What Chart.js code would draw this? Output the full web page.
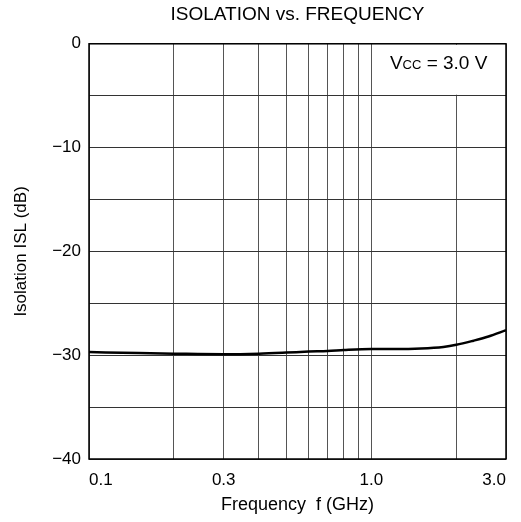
<!DOCTYPE html>
<html>
<head>
<meta charset="utf-8">
<script src="https://cdn.jsdelivr.net/npm/chart.js@4"></script>
<style>
  body { margin: 0; background: #fff; }
  #wrap { width: 521px; height: 522px; }
</style>
</head>
<body>
<div id="wrap"><canvas id="chart"></canvas></div>
<script>
// data
const freqs = [0.1, 0.15, 0.2, 0.3, 0.4, 0.5, 0.6, 0.7, 0.8, 1.0, 1.2, 1.5, 1.8, 2.0, 2.3, 2.6, 3.0];
const isolation = [-29.7, -29.8, -29.85, -29.9, -29.85, -29.75, -29.65, -29.6, -29.5, -29.4, -29.4, -29.35, -29.2, -29.0, -28.6, -28.2, -27.6];

// axis ticks
const xGrid = [0.1, 0.2, 0.3, 0.4, 0.5, 0.6, 0.7, 0.8, 0.9, 1, 2, 3];
const xLabelValues = [0.1, 0.3, 1, 3];
const xLabelText = ['0.1', '0.3', '1.0', '3.0'];
const yLabelValues = [0, -10, -20, -30, -40];
const yLabelText = ['0', '\u221210', '\u221220', '\u221230', '\u221240'];

const FONT = '"Liberation Sans", Arial, sans-serif';

// white box with the supply voltage note, top right
const noteBox = {
    id: 'noteBox',
    beforeDatasetsDraw(chart) {
        const ctx = chart.ctx;
        const xs = chart.scales.x, ys = chart.scales.y;
        const x1 = xs.getPixelForValue(1), x2 = chart.chartArea.right;
        const y1 = chart.chartArea.top, y2 = ys.getPixelForValue(-5);
        ctx.save();
        ctx.fillStyle = '#fff';
        ctx.fillRect(x1 + 1, y1 + 1, x2 - x1 - 2, y2 - y1 - 2);

        const big = '19px ' + FONT, small = '13px ' + FONT;
        ctx.fillStyle = '#000';
        ctx.textBaseline = 'alphabetic';
        ctx.font = big;
        const wV = ctx.measureText('V').width;
        const wRest = ctx.measureText(' = 3.0 V').width;
        ctx.font = small;
        const wCC = ctx.measureText('CC').width;
        let x = (x1 + x2) / 2 - (wV + wCC + wRest) / 2;
        const base = y1 + 25;
        ctx.font = big;
        ctx.fillText('V', x, base);
        x += wV;
        ctx.font = small;
        ctx.fillText('CC', x, base);
        x += wCC;
        ctx.font = big;
        ctx.fillText(' = 3.0 V', x, base);
        ctx.restore();
    },
    afterDraw(chart) {
        const a = chart.chartArea;
        const ctx = chart.ctx;
        ctx.save();
        ctx.strokeStyle = '#000';
        ctx.lineWidth = 1.5;
        ctx.strokeRect(a.left, a.top, a.right - a.left, a.bottom - a.top);
        ctx.restore();
    }
};

new Chart(document.getElementById('chart'), {
    type: 'line',
    data: {
        datasets: [{
            data: freqs.map((f, i) => ({ x: f, y: isolation[i] })),
            borderColor: '#000',
            borderWidth: 2.5,
            pointRadius: 0,
            cubicInterpolationMode: 'monotone',
            fill: false
        }]
    },
    options: {
        responsive: true,
        maintainAspectRatio: false,
        animation: false,
        layout: { padding: { left: 0, right: 15, top: 0, bottom: 0 } },
        plugins: {
            legend: { display: false },
            tooltip: { enabled: false },
            title: {
                display: true,
                text: 'ISOLATION vs. FREQUENCY',
                color: '#000',
                fullSize: false,
                font: { family: FONT, size: 19, weight: 'normal' },
                padding: { top: 3, bottom: 18 }
            }
        },
        scales: {
            x: {
                type: 'logarithmic',
                min: 0.1,
                max: 3,
                afterBuildTicks(scale) {
                    scale.ticks = xGrid.map(v => ({ value: v }));
                },
                afterFit(scale) { scale.height = 63; },
                grid: { color: '#555', lineWidth: 1, drawTicks: false },
                border: { display: false },
                ticks: {
                    autoSkip: false,
                    maxRotation: 0,
                    align: 'inner',
                    padding: 11,
                    color: '#000',
                    font: { family: FONT, size: 17 },
                    callback(v) {
                        const i = xLabelValues.findIndex(t => Math.abs(t - v) < 1e-6);
                        return i >= 0 ? xLabelText[i] : '';
                    }
                },
                title: {
                    display: true,
                    text: 'Frequency  f (GHz)',
                    color: '#000',
                    font: { family: FONT, size: 18 },
                    padding: { top: 0, bottom: 6 }
                }
            },
            y: {
                min: -40,
                max: 0,
                afterFit(scale) { scale.width = 89; },
                grid: { color: '#333', lineWidth: 1, drawTicks: false },
                border: { display: false },
                ticks: {
                    stepSize: 5,
                    padding: 8,
                    color: '#000',
                    font: { family: FONT, size: 17 },
                    callback(v) {
                        const i = yLabelValues.indexOf(v);
                        return i >= 0 ? yLabelText[i] : '';
                    }
                },
                title: {
                    display: true,
                    text: 'Isolation ISL (dB)',
                    color: '#000',
                    font: { family: FONT, size: 17 },
                    padding: { top: 11, bottom: 0 }
                }
            }
        }
    },
    plugins: [noteBox]
});
</script>
</body>
</html>
